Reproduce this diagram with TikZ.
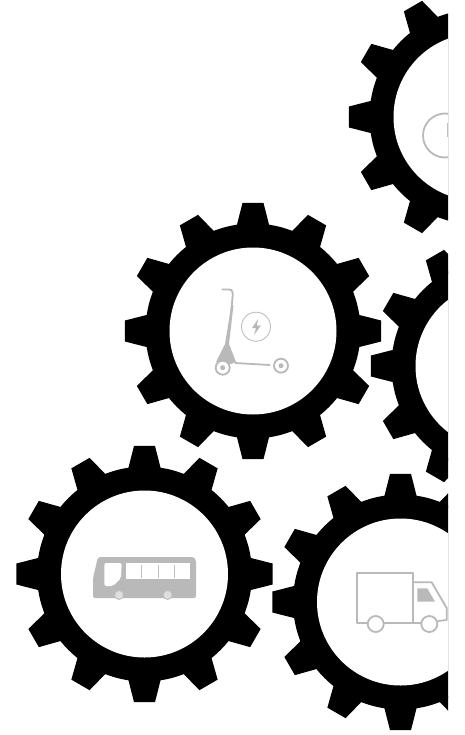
\documentclass[tikz,border=0pt]{standalone}
\usetikzlibrary{calc}

\begin{document}
\begin{tikzpicture}[x=1pt, y=-1pt]
		% Estilos de los engranajes y los iconos
		\tikzset{
			icon/.style={
					draw=gray!55, line width=1.8pt, line join=round
				},
			thinicon/.style={
					draw=gray!50, line width=0.9pt
				},
			iconfill/.style={
					fill=gray!55
				},
			gear/.pic={
					\fill[black] (0,0) circle (107.5);
					\foreach \a in {0,30,...,330} {
							\fill[black] ({\a-8.8}:106.5) -- ({\a-4.7}:128.5) -- ({\a+4.7}:128.5) -- ({\a+8.8}:106.5) -- cycle;
						}
					\fill[white] (0,0) circle (83.5);
				}
		}

		\useasboundingbox (0,0) rectangle (464,735);

		\begin{scope}
			\clip (0,0) rectangle (448,735);

			% Engranajes
			\foreach \cx/\cy in {477/117, 499/366, 253/331, 144.5/574, 400.5/602} {
					\pic at (\cx,\cy) {gear};
				}

			% Reloj del engranaje superior
			\draw[icon] (445,135.5) circle (22);
			\draw[thinicon] (447,123) -- (447,137);

			% Patinete
			\draw[icon] (221.5,289.5) -- (229,289.5) .. controls (233,289.5) and (233,293) .. (232.5,298) -- (228,340);
			\fill[iconfill] (231.5,305) -- (233.5,305) -- (229,344) -- (236,362) -- (231,364) -- (216,362) -- (225,344) -- cycle;
			\draw[icon] (235,363) -- (270,365);
			\draw[icon, fill=white] (222.7,367.7) circle (7);
			\draw[icon, fill=white] (281,365.7) circle (7);
			\fill[iconfill] (222.7,367.7) circle (2.5);
			\fill[iconfill] (281,365.7) circle (2.5);
			\draw[thinicon] (256,326.7) circle (14.5);
			\fill[iconfill] (258,319) -- (252,328) -- (256,328) -- (254,335) -- (261,325.5) -- (257,325.5) -- cycle;

			% Autobus
			\fill[iconfill, rounded corners=2pt] (98,557) -- (194,557) -- (196,560) -- (196,598) -- (93,598) -- (93,578) -- cycle;
			\fill[white, rounded corners=2pt] (104.3,563) -- (121.7,563) -- (121,578) -- (113,586) -- (104.3,586) -- cycle;
			\fill[white] (126,563) rectangle (190,579);
			\foreach \wx in {141.7,158.3,174} {
					\draw[thinicon] (\wx,565) -- (\wx,578);
				}
			\foreach \wx in {119,167.7} {
					\draw[thinicon, fill=gray!25] (\wx,595) circle (4.5);
				}

			% Camion
			\draw[icon] (356.7,573.3) rectangle (413.3,623);
			\draw[icon] (413.3,582.3) -- (431.7,582.3) -- (446.7,608) -- (446.7,620) -- (438,621);
			\draw[icon] (384,623) -- (421,623);
			\fill[iconfill] (417.3,588.3) -- (427.3,588.3) -- (435,601.7) -- (417.3,601.7) -- cycle;
			\foreach \wx in {375.7,429.3} {
					\draw[icon, fill=white] (\wx,624) circle (8);
				}
		\end{scope}
	\end{tikzpicture}
\end{document}
